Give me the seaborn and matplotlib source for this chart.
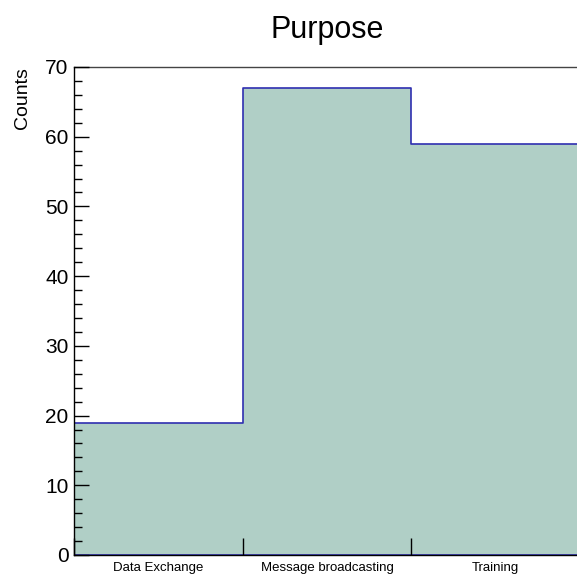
import matplotlib
matplotlib.use("Agg")
import matplotlib.pyplot as plt
import seaborn as sns
import pandas as pd
from matplotlib.ticker import MultipleLocator, FixedLocator

categories = ["Data Exchange", "Message broadcasting", "Training"]
counts = [19, 67, 59]
title = "Purpose"
ylabel = "Counts"

sns.set_style("white")
plt.rcParams["font.family"] = ["Liberation Sans", "DejaVu Sans"]
plt.rcParams["text.color"] = "black"
plt.rcParams["xtick.color"] = "black"
plt.rcParams["ytick.color"] = "black"
plt.rcParams["axes.labelcolor"] = "black"

df = pd.DataFrame({"purpose": categories, "count": counts})

fig = plt.figure(figsize=(5.77, 5.76), dpi=100)
W, H = 577, 576
ax = fig.add_axes([74 / W, 1 - 555 / H, (580 - 74) / W, (555 - 67) / H])
ax.set_axisbelow(False)

sns.histplot(data=df, x="purpose", weights="count", discrete=True,
             element="step", fill=True, color="#b0cfc6", alpha=1.0,
             edgecolor="#2f2fb0", linewidth=1.2, ax=ax, zorder=1)

ax.set_xlim(-0.5, 2.5)
ax.set_ylim(0, 70)

# x: major ticks at bin edges (no labels), minor ticks at centres (labels)
ax.xaxis.set_major_locator(FixedLocator([-0.5, 0.5, 1.5, 2.5]))
ax.xaxis.set_minor_locator(FixedLocator([0, 1, 2]))
ax.set_xticklabels([], minor=False)
ax.set_xticklabels(categories, minor=True, fontsize=9.5)
ax.tick_params(axis="x", which="major", bottom=True, direction="in", length=12,
               width=1, color="black")
ax.tick_params(axis="x", which="minor", bottom=True, length=0, pad=5, labelcolor="black")

ax.yaxis.set_major_locator(MultipleLocator(10))
ax.yaxis.set_minor_locator(MultipleLocator(2))
ax.tick_params(axis="y", which="major", left=True, direction="in", length=10.8, width=1,
               color="black", labelsize=15, pad=4, labelcolor="black")
ax.tick_params(axis="y", which="minor", left=True, direction="in", length=5.8, width=1,
               color="black")

for s in ["left", "bottom"]:
    ax.spines[s].set_color("black")
    ax.spines[s].set_linewidth(1.0)
    ax.spines[s].set_zorder(3)
ax.spines["top"].set_color("#444444")
ax.spines["top"].set_linewidth(1.0)
ax.spines["right"].set_visible(False)

ax.set_xlabel("")
ax.set_ylabel(ylabel, fontsize=14, loc="top", color="black")
ax.yaxis.set_label_coords(-0.085, 1.0)

ax.set_title(title, fontsize=22, pad=21, color="black")

fig.savefig("out.png", dpi=100)
